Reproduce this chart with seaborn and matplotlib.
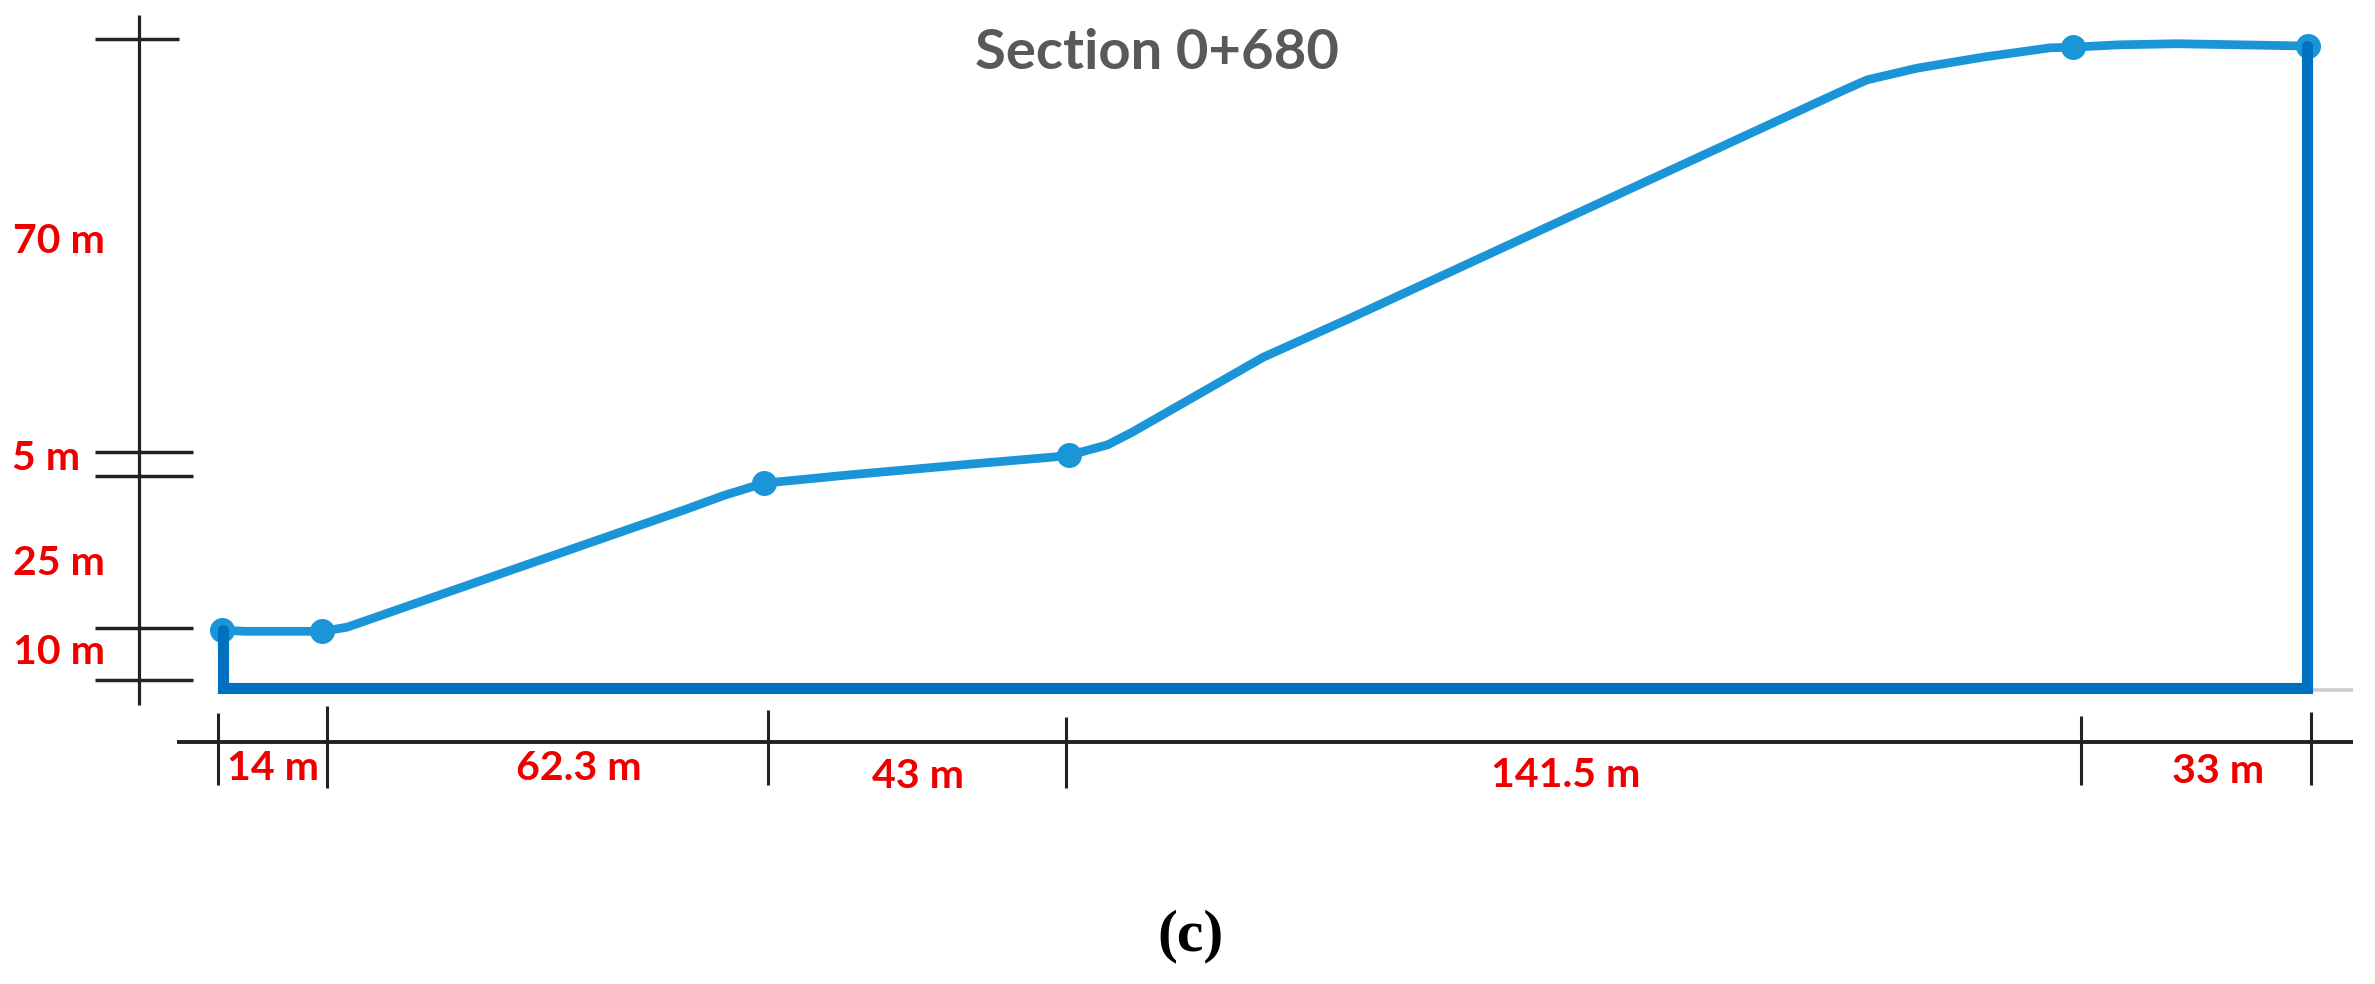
import matplotlib
matplotlib.use("Agg")
import matplotlib.pyplot as plt
import pandas as pd
import seaborn as sns

sns.set_theme(style="white")
plt.rcParams["font.family"] = ["Lato", "DejaVu Sans"]

# ground profile (m)
profile_x = [0.6, 3.8, 14.6, 18.1, 65.4, 71.0, 76.6, 88.3, 105.8, 117.3, 119.5, 124.9,
             128.4, 146.7, 158.9, 228.0, 231.5, 238.5, 247.8, 257.2, 260.4, 266.6, 275.0, 293.4]
profile_y = [10.1, 9.9, 9.9, 10.6, 30.7, 33.2, 35.3, 36.7, 38.6, 39.8, 40.1, 41.9,
             44.1, 56.9, 63.6, 102.6, 104.5, 106.5, 108.4, 110.0, 110.1, 110.5, 110.7, 110.3]
node_x = [0.6, 14.6, 76.6, 119.5, 260.4, 293.4]
node_y = [10.1, 9.9, 35.3, 40.1, 110.1, 110.3]

# section outline (m)
outline_x = [0.7, 0.7, 293.3, 293.3]
outline_y = [10.1, 0.1, 0.1, 110.3]

# horizontal dimension line
span_ticks = [0.0, 15.3, 77.2, 119.0, 261.5, 293.8]
span_tick_low = [-16.5, -17.0, -16.5, -17.0, -16.5, -16.5]
span_tick_high = [-4.1, -2.9, -3.6, -4.8, -4.6, -3.9]
span_labels = ["14 m", "62.3 m", "43 m", "141.5 m", "33 m"]
span_label_x = [7.7, 50.6, 98.3, 189.2, 280.8]
span_label_y = [-13.6, -13.6, -15.0, -14.9, -14.2]

# vertical dimension line
height_ticks = [1.5, 10.5, 36.5, 40.7, 111.5]
height_tick_right = [-3.5, -3.5, -3.5, -3.5, -5.5]
height_labels = ["10 m", "25 m", "5 m", "70 m"]
height_label_x = [-22.3, -22.3, -24.1, -22.3]
height_label_y = [6.2, 21.6, 39.6, 76.8]

BLUE_DARK = "#0070C0"
BLUE = "#1A96D8"
RED = "#EE0000"

fig = plt.figure(figsize=(23.75, 9.84), dpi=100, facecolor="white")
ax = fig.add_axes([0, 0, 1, 1])

# dimension lines
ax.hlines(-9.1, -5.8, 299.7, color="#222222", lw=2.8)
ax.vlines(span_ticks, span_tick_low, span_tick_high, color="#222222", lw=2.2)
ax.vlines(-11.1, -2.7, 115.6, color="#222222", lw=2.3)
ax.hlines(height_ticks, -17.3, height_tick_right, color="#222222", lw=2.5)
ax.hlines(-0.2, 293.4, 299.7, color="#CCCCCC", lw=2.6)

# section
profile = pd.DataFrame({"x": profile_x, "y": profile_y})
sns.lineplot(data=profile, x="x", y="y", ax=ax, color=BLUE, lw=6.3, sort=False,
             estimator=None, legend=False, solid_joinstyle="round")
sns.scatterplot(x=node_x, y=node_y, ax=ax, color=BLUE, s=324, linewidth=0,
                legend=False, zorder=4)
sns.lineplot(x=outline_x, y=outline_y, ax=ax, color=BLUE_DARK, lw=8, sort=False,
             estimator=None, legend=False, solid_joinstyle="miter", zorder=5)
ax.set_xlim(-30.6, 302.8)
ax.set_ylim(-50.6, 118.2)
ax.axis("off")

for label, x, y in zip(span_labels, span_label_x, span_label_y):
    ax.text(x, y, label, color=RED, fontsize=29.5, fontweight="bold", ha="center", va="center")
for label, x, y in zip(height_labels, height_label_x, height_label_y):
    ax.text(x, y, label, color=RED, fontsize=29.5, fontweight="bold", ha="center", va="center")

ax.text(131.8, 109.1, "Section 0+680", color="#595959", fontsize=40.5, fontweight="bold",
        ha="center", va="center")
fig.text(1190 / 2375, 1 - 936 / 984, "(c)", color="black", fontsize=43,
         family="Liberation Serif", fontweight="bold", ha="center", va="center")

fig.savefig("out.png", dpi=100)
